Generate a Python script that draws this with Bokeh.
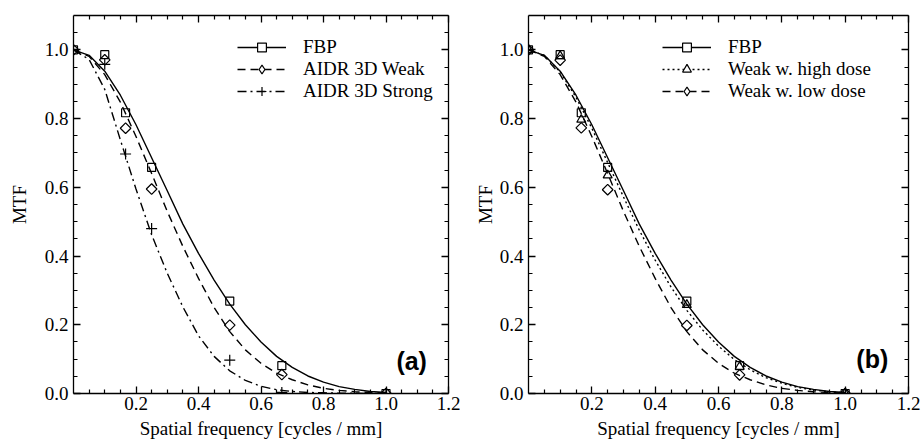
from bokeh.plotting import figure
from bokeh.models import (LinearAxis, FixedTicker, Range1d, Legend, LegendItem,
                          Label, PrintfTickFormatter, CustomJSTickFormatter)
from bokeh.layouts import row
from bokeh.embed import file_html
from bokeh.resources import INLINE

FONT = "'Liberation Serif', 'Times New Roman', serif"
SANS = "'Liberation Sans', Arial, sans-serif"
NAN = float("nan")

# ---------------- data ----------------
# sample positions of the fitted MTF curves [cycles/mm]
curve_x = [0.00, 0.05, 0.10, 0.15, 0.20, 0.25, 0.30, 0.35, 0.40, 0.45, 0.50,
           0.55, 0.60, 0.65, 0.70, 0.75, 0.80, 0.85, 0.90, 0.95, 1.00]
fbp_curve = [1.000, 0.984, 0.938, 0.868, 0.782, 0.686, 0.590, 0.493, 0.408, 0.330, 0.260,
             0.200, 0.150, 0.108, 0.076, 0.051, 0.033, 0.020, 0.012, 0.006, 0.003]
weak_curve = [1.000, 0.981, 0.928, 0.848, 0.748, 0.640, 0.530, 0.428, 0.335, 0.250, 0.180,
              0.127, 0.088, 0.059, 0.040, 0.025, 0.015, 0.009, 0.005, 0.003, 0.001]
strong_curve = [1.000, 0.972, 0.885, 0.738, 0.595, 0.462, 0.350, 0.252, 0.168, 0.108, 0.066,
                0.038, 0.021, 0.011, 0.006, 0.003, 0.002, 0.001, 0.001, 0.000, 0.000]
high_dose_curve = [1.000, 0.984, 0.936, 0.862, 0.772, 0.672, 0.572, 0.475, 0.388, 0.310, 0.242,
                   0.185, 0.138, 0.099, 0.069, 0.046, 0.030, 0.018, 0.010, 0.005, 0.002]
low_dose_curve = [1.000, 0.981, 0.928, 0.848, 0.748, 0.640, 0.530, 0.428, 0.335, 0.250, 0.180,
                  0.127, 0.088, 0.059, 0.040, 0.025, 0.015, 0.009, 0.005, 0.003, 0.001]

# measured points
meas_x = [0.0, 0.1, 1 / 6, 0.25, 0.5, 2 / 3, 1.0]
fbp_pts = [1.0, 0.986, 0.817, 0.658, 0.269, 0.081, 0.0]
weak_pts = [1.0, 0.971, 0.772, 0.595, 0.199, 0.055, 0.0]
strong_pts = [1.0, 0.958, 0.697, 0.480, 0.097, 0.003, 0.0]
high_dose_pts = [1.0, 0.982, 0.797, 0.635, 0.258, 0.078, 0.0]
low_dose_pts = [1.0, 0.970, 0.773, 0.593, 0.198, 0.054, 0.0]

# axes ticks
x_major = [0.2, 0.4, 0.6, 0.8, 1.0, 1.2]
x_minor = [0.05, 0.1, 0.15, 0.25, 0.3, 0.35, 0.45, 0.5, 0.55, 0.65, 0.7, 0.75,
           0.85, 0.9, 0.95, 1.05, 1.1, 1.15]
y_major = [0.0, 0.2, 0.4, 0.6, 0.8, 1.0]
y_minor = [0.05, 0.1, 0.15, 0.25, 0.3, 0.35, 0.45, 0.5, 0.55, 0.65, 0.7, 0.75,
           0.85, 0.9, 0.95, 1.05]

LW = 1.4
DIAMOND_ANGLE = 0.785398  # square turned into a diamond


def make_panel(width, left, right, ylab_standoff):
    p = figure(width=width, height=446, x_range=Range1d(0, 1.2), y_range=Range1d(0, 1.1),
               x_axis_type=None, y_axis_type=None, output_backend="svg",
               toolbar_location=None, min_border_left=left, min_border_right=right,
               min_border_top=15, min_border_bottom=53)
    p.outline_line_color = None
    p.background_fill_color = "white"
    p.border_fill_color = "white"
    common = dict(axis_line_width=1.3, axis_line_color="black",
                  major_tick_line_width=1.3, major_tick_line_color="black",
                  minor_tick_line_width=1.2, minor_tick_line_color="black",
                  major_tick_in=7, major_tick_out=0, minor_tick_in=4, minor_tick_out=0)
    lbl = dict(major_label_text_font=FONT, major_label_text_font_size="19px",
               major_label_text_color="black")
    title = dict(axis_label_text_font=FONT, axis_label_text_font_size="19px",
                 axis_label_text_font_style="normal", axis_label_text_color="black")
    xt = FixedTicker(ticks=x_major, minor_ticks=x_minor)
    yt = FixedTicker(ticks=y_major, minor_ticks=y_minor)
    bottom = LinearAxis(ticker=xt, formatter=PrintfTickFormatter(format="%.1f"),
                        axis_label="Spatial frequency [cycles / mm]", axis_label_standoff=5,
                        major_label_standoff=3, **common, **lbl, **title)
    leftax = LinearAxis(ticker=yt, formatter=PrintfTickFormatter(format="%.1f"),
                        axis_label="MTF", axis_label_standoff=ylab_standoff,
                        major_label_standoff=5, **common, **lbl, **title)
    blank = CustomJSTickFormatter(code="return ''")
    top = LinearAxis(ticker=xt, formatter=blank, major_label_text_font_size="1px",
                     major_label_standoff=0, **common)
    rightax = LinearAxis(ticker=yt, formatter=blank, major_label_text_font_size="1px",
                         major_label_standoff=0, **common)
    p.add_layout(bottom, "below")
    p.add_layout(leftax, "left")
    p.add_layout(top, "above")
    p.add_layout(rightax, "right")
    return p


def add_series(p, curve, pts, dash, marker, size, angle=0.0,
               legend_marker=None, legend_size=None):
    ln = p.line(curve_x, curve, line_color="black", line_width=LW, line_dash=dash)
    p.scatter(meas_x, pts, marker=marker, size=size, angle=angle, fill_color=None,
              line_color="black", line_width=1.2)
    # legend-only marker (white filled so the legend line does not cross it)
    leg = p.scatter(x=[NAN], y=[NAN], marker=legend_marker or marker,
                    size=legend_size or size, fill_color="white",
                    line_color="black", line_width=1.2)
    return [ln, leg]


def make_legend(items, x, y):
    return Legend(items=items, location=(x, y), border_line_alpha=0,
                  background_fill_alpha=0, label_text_font=FONT,
                  label_text_font_size="19px", label_text_color="black",
                  glyph_width=49, glyph_height=22, label_height=22, spacing=0,
                  padding=0, margin=0, label_standoff=17)


# ---------------- panel (a) ----------------
pa = make_panel(460, 73, 12, 12)
r1 = add_series(pa, fbp_curve, fbp_pts, "solid", "square", 8)
r2 = add_series(pa, weak_curve, weak_pts, "8 5", "square", 7.5, DIAMOND_ANGLE,
                legend_marker="diamond", legend_size=12)
r3 = add_series(pa, strong_curve, strong_pts, "9 4 2 4", "cross", 11)
pa.add_layout(make_legend([LegendItem(label="FBP", renderers=r1),
                           LegendItem(label="AIDR 3D Weak", renderers=r2),
                           LegendItem(label="AIDR 3D Strong", renderers=r3)], 164, 291))
pa.add_layout(Label(x=1.131, y=0.096, text="(a)", text_align="right", text_baseline="middle",
                    text_font=SANS, text_font_style="bold",
                    text_font_size="25px", text_color="black"))

# ---------------- panel (b) ----------------
pb = make_panel(461, 68, 13, 1)
s1 = add_series(pb, fbp_curve, fbp_pts, "solid", "square", 8)
s2 = add_series(pb, high_dose_curve, high_dose_pts, "2 3", "triangle", 9)
s3 = add_series(pb, low_dose_curve, low_dose_pts, "8 5", "square", 7.5, DIAMOND_ANGLE,
                legend_marker="diamond", legend_size=12)
pb.add_layout(make_legend([LegendItem(label="FBP", renderers=s1),
                           LegendItem(label="Weak w. high dose", renderers=s2),
                           LegendItem(label="Weak w. low dose", renderers=s3)], 134, 291))
pb.add_layout(Label(x=1.136, y=0.10, text="(b)", text_align="right", text_baseline="middle",
                    text_font=SANS, text_font_style="bold",
                    text_font_size="25px", text_color="black"))

layout = row(pa, pb)
open("out.html", "w").write(file_html(layout, INLINE))
